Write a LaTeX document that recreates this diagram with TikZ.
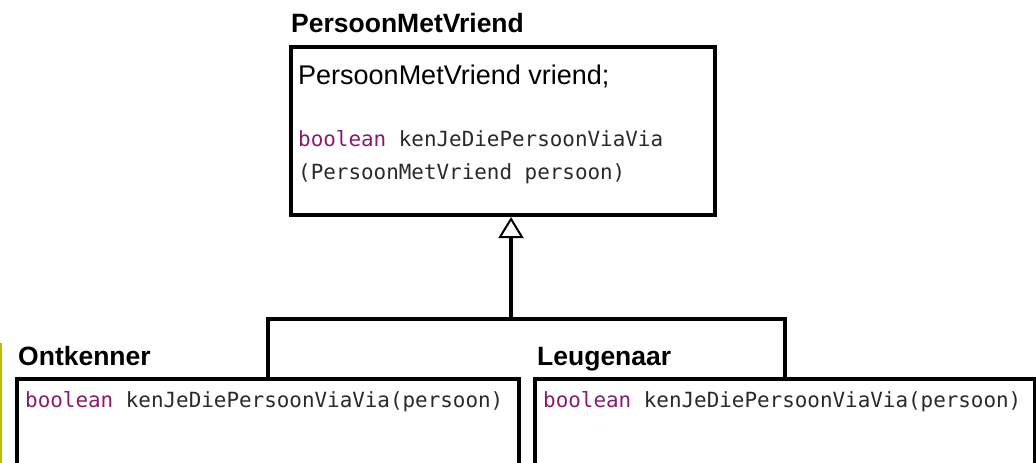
\documentclass[tikz,border=0pt]{standalone}
\usepackage{fontspec}
\setmainfont{Liberation Sans}
\newfontfamily\codefont{DejaVu Sans Mono}
\usetikzlibrary{arrows.meta}
\definecolor{kw}{HTML}{8A1A6E}
\definecolor{codegray}{HTML}{2A2A2A}
\definecolor{olive}{HTML}{BDBD00}
\tikzset{
  umlbox/.style={draw=black, line width=4pt, anchor=north west, inner sep=0pt},
  title/.style={anchor=base west, inner sep=0pt, font=\fontsize{26.5}{30}\selectfont\bfseries},
  attr/.style={anchor=base west, inner sep=0pt, font=\fontsize{27}{30}\selectfont},
  code/.style={anchor=base west, inner sep=0pt, text=codegray, font=\fontsize{20.9}{24}\selectfont\codefont},
  conn/.style={draw=black, line width=4pt},
  inherit/.style={conn, -{Triangle[open, length=21pt, width=25pt, line width=2pt]}}
}
\newcommand{\kw}[1]{\textcolor{kw}{#1}}
\begin{document}
\begin{tikzpicture}[x=1pt, y=-1pt]
\useasboundingbox (0,0) rectangle (1036,463);
\clip (0,0) rectangle (1036,463);
\fill[white] (0,0) rectangle (1036,463);
% yellow edge line
\draw[olive, line width=2pt] (1,343) -- (1,463);
% top class
\node[title] (ttitle) at (291,32) {PersoonMetVriend};
\node[umlbox, minimum width=424pt, minimum height=168pt] (top) at (289,45) {};
\node[attr] (tattr) at (298,84) {PersoonMetVriend vriend;};
\node[code] (tm1) at (298,146) {\kw{boolean} kenJeDiePersoonViaVia};
\node[code] (tm2) at (298,179) {(PersoonMetVriend persoon)};
% left class
\node[title] (ltitle) at (18,365) {Ontkenner};
\node[umlbox, minimum width=502pt, minimum height=140pt] (lbox) at (15,377) {};
\node[code] (lm) at (25,407) {\kw{boolean} kenJeDiePersoonViaVia(persoon)};
% right class
\node[title] (rtitle) at (537,365) {Leugenaar};
\node[umlbox, minimum width=500pt, minimum height=140pt] (rbox) at (533,377) {};
\node[code] (rm) at (543,407) {\kw{boolean} kenJeDiePersoonViaVia(persoon)};
% connectors
\coordinate (j) at (511,319);
\draw[conn] (lbox.north) |- (j) -| (rbox.north);
\draw[inherit] (j) -- (j |- top.south);
\end{tikzpicture}
\end{document}
